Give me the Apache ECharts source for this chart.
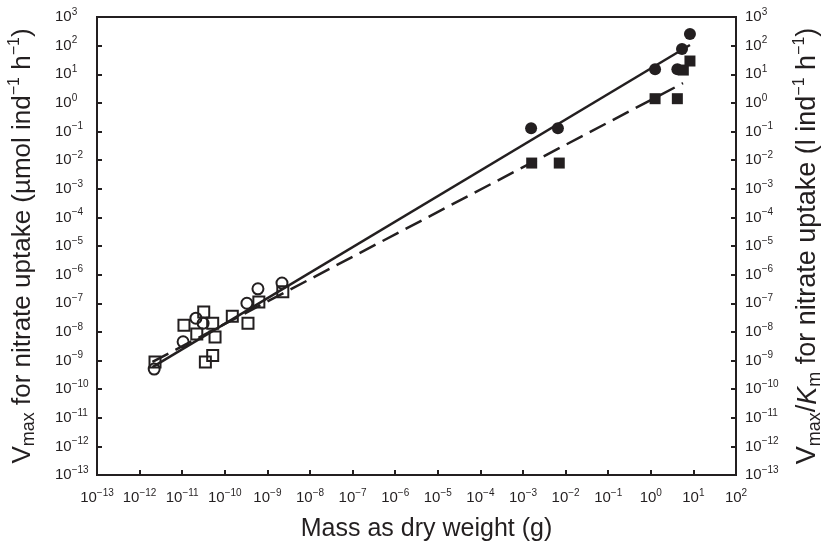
<!DOCTYPE html>
<html>
<head>
<meta charset="utf-8">
<title>Nitrate uptake vs mass</title>
<script src="https://cdn.jsdelivr.net/npm/echarts@6/dist/echarts.min.js"></script>
<style>
  html,body{margin:0;padding:0;background:#fff;}
  #main{width:825px;height:544px;}
</style>
</head>
<body>
<div id="main"></div>
<script>
// Vmax, small organisms (open circles)
var vmaxSmallMass = [2.2e-12, 1.05e-11, 2.1e-11, 3.1e-11, 3.3e-10, 6.0e-10, 2.2e-9];
var vmaxSmall     = [5.0e-10, 4.5e-9, 3.0e-8, 2.0e-8, 1.0e-7, 3.2e-7, 5.1e-7];
// Vmax/Km, small organisms (open squares)
var affSmallMass = [2.3e-12, 1.1e-11, 2.2e-11, 3.2e-11, 5.2e-11, 5.9e-11, 3.5e-11, 5.2e-11, 1.5e-10, 3.5e-10, 6.3e-10, 2.3e-9];
var affSmall     = [8.9e-10, 1.7e-8, 8.5e-9, 4.9e-8, 2.0e-8, 6.6e-9, 8.9e-10, 1.5e-9, 3.5e-8, 2.0e-8, 1.1e-7, 2.5e-7];
// Vmax, large organisms (filled circles)
var vmaxLargeMass = [1.55e-3, 6.6e-3, 1.26, 4.2, 5.4, 8.3];
var vmaxLarge     = [0.13, 0.13, 15, 15, 76, 257];
// Vmax/Km, large organisms (filled squares)
var affLargeMass = [1.6e-3, 7.1e-3, 1.26, 4.2, 5.8, 8.3];
var affLarge     = [7.9e-3, 7.9e-3, 1.4, 1.4, 14, 29];
// regression lines (end points)
var fitVmaxMass = [2.0e-12, 8.3];
var fitVmax     = [5.9e-10, 105];
var fitAffMass  = [2.0e-12, 5.7];
var fitAff      = [8.9e-10, 4.9];

var ink = '#231f20';
var font = 'Liberation Sans, Arial, Helvetica, sans-serif';

function pairs(xs, ys){
  var out = [];
  for (var i = 0; i < xs.length; i++) out.push([xs[i], ys[i]]);
  return out;
}
function sci(v){
  var e = Math.round(Math.log(v) / Math.LN10);
  return '{b|10}{s|' + (e < 0 ? '\u2212' + (-e) : e) + '}';
}
var tickRich = {
  b: {fontSize: 15, lineHeight: 20, fontFamily: font, color: ink},
  s: {fontSize: 10, lineHeight: 11, verticalAlign: 'top', fontFamily: font, color: ink}
};
function nameRich(size){
  return {
    sub: {fontSize: Math.round(size * 0.68), lineHeight: size, verticalAlign: 'bottom', fontFamily: font, color: ink},
    sup: {fontSize: Math.round(size * 0.6), lineHeight: 14, verticalAlign: 'top', fontFamily: font, color: ink},
    it: {fontSize: size, lineHeight: size + 5, fontStyle: 'italic', fontFamily: font, color: ink}
  };
}

function yAxisCfg(pos, name, gap, size, labelCfg){
  return {
    type: 'log', logBase: 10, position: pos,
    min: 1e-13, max: 1e3, interval: 1,
    name: name, nameLocation: 'middle', nameGap: gap, nameRotate: 90,
    nameTextStyle: {fontSize: size, lineHeight: size + 5, fontFamily: font, color: ink, rich: nameRich(size)},
    axisLine: {show: true, onZero: false, lineStyle: {color: ink, width: 2}},
    axisTick: {show: true, inside: true, length: 5, lineStyle: {color: ink, width: 2}},
    axisLabel: labelCfg,
    splitLine: {show: false}
  };
}

var chart = echarts.init(document.getElementById('main'));
chart.setOption({
  animation: false,
  backgroundColor: '#fff',
  grid: {left: 97, right: 89, top: 17, bottom: 69, outerBoundsMode: 'none', containLabel: false,
         show: true, borderColor: ink, borderWidth: 2},
  xAxis: {
    type: 'log', logBase: 10, min: 1e-13, max: 1e2, interval: 1,
    name: 'Mass as dry weight (g)', nameLocation: 'middle', nameGap: 42,
    nameTextStyle: {fontSize: 25, fontFamily: font, color: ink, padding: [0, 0, 0, 20]},
    axisLine: {show: true, onZero: false, lineStyle: {color: ink, width: 2}},
    axisTick: {show: true, inside: true, length: 5, lineStyle: {color: ink, width: 2}},
    axisLabel: {formatter: sci, rich: tickRich, margin: 13, showMinLabel: true, showMaxLabel: true},
    splitLine: {show: false}
  },
  yAxis: [
    yAxisCfg('left', 'V{sub|max} for nitrate uptake (\u00b5mol ind{sup|\u22121} h{sup|\u22121})', 59, 26,
      {formatter: sci, rich: tickRich, margin: 42, align: 'left', showMinLabel: true, showMaxLabel: true}),
    yAxisCfg('right', 'V{sub|max}/{it|K}{sub|m} for nitrate uptake (l ind{sup|\u22121} h{sup|\u22121})', 56, 27,
      {formatter: sci, rich: tickRich, margin: 9, showMinLabel: true, showMaxLabel: true})
  ],
  series: [
    {type: 'line', data: pairs(fitVmaxMass, fitVmax), symbol: 'none',
     lineStyle: {color: ink, width: 2.5}, z: 3},
    {type: 'line', yAxisIndex: 1, data: pairs(fitAffMass, fitAff), symbol: 'none',
     lineStyle: {color: ink, width: 2.5, type: [18, 8]}, z: 3},
    {type: 'scatter', data: pairs(vmaxSmallMass, vmaxSmall), symbol: 'circle', symbolSize: 11,
     itemStyle: {color: 'rgba(255,255,255,0)', borderColor: ink, borderWidth: 2, opacity: 1}, z: 2},
    {type: 'scatter', yAxisIndex: 1, data: pairs(affSmallMass, affSmall), symbol: 'rect', symbolSize: 11,
     itemStyle: {color: 'rgba(255,255,255,0)', borderColor: ink, borderWidth: 2, opacity: 1}, z: 2},
    {type: 'scatter', data: pairs(vmaxLargeMass, vmaxLarge), symbol: 'circle', symbolSize: 12,
     itemStyle: {color: ink, opacity: 1}, z: 4},
    {type: 'scatter', yAxisIndex: 1, data: pairs(affLargeMass, affLarge), symbol: 'rect', symbolSize: 11,
     itemStyle: {color: ink, opacity: 1}, z: 4}
  ]
});
</script>
</body>
</html>
